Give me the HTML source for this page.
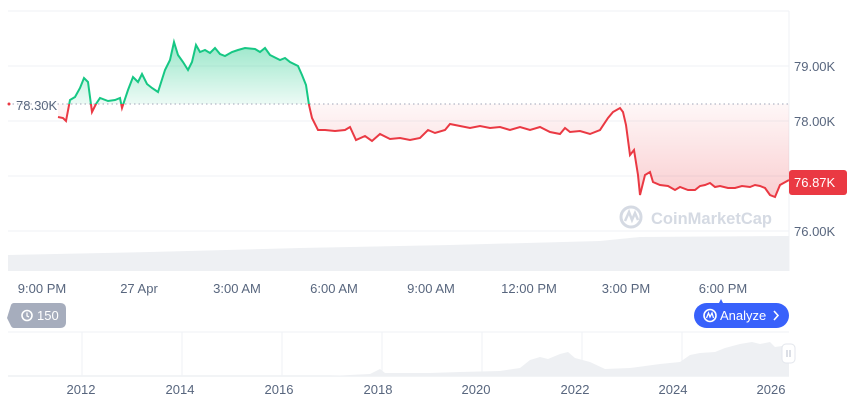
<!DOCTYPE html>
<html><head><meta charset="utf-8"><style>
html,body{margin:0;padding:0;background:#fff;width:860px;height:401px;overflow:hidden;font-family:"Liberation Sans",sans-serif;}
svg text{font-family:"Liberation Sans",sans-serif;}
</style></head><body>
<svg width="860" height="401" viewBox="0 0 860 401" xmlns="http://www.w3.org/2000/svg">
<defs>
<linearGradient id="gg" x1="0" y1="40" x2="0" y2="104" gradientUnits="userSpaceOnUse"><stop offset="0" stop-color="#16c784" stop-opacity="0.45"/><stop offset="1" stop-color="#16c784" stop-opacity="0.08"/></linearGradient>
<linearGradient id="rg" x1="0" y1="104" x2="0" y2="200" gradientUnits="userSpaceOnUse"><stop offset="0" stop-color="#ea3943" stop-opacity="0.04"/><stop offset="1" stop-color="#ea3943" stop-opacity="0.25"/></linearGradient>
<clipPath id="ct"><rect x="0" y="0" width="860" height="104"/></clipPath>
<clipPath id="cb"><rect x="0" y="104" width="860" height="200"/></clipPath>
<path id="ln" d="M58,117 L63,118 66,121 70,100 75,97 80,88 84,78 88,82 92,112 96,104 100,98 108,101 115,100 120,98 122,108 128,90 133,77 138,82 142,74 147,84 152,88 158,92 165,70 170,60 174,42 178,55 183,62 188,70 192,62 196,45 200,52 205,50 210,53 215,48 220,54 225,56 232,52 238,50 245,48 255,49 260,52 265,48 270,55 280,60 285,58 290,62 298,66 302,75 306,85 309,105 312,118 318,130 325,130 335,131 345,130 350,127 356,140 365,136 372,141 380,134 390,139 400,138 410,140 420,138 428,130 435,133 445,130 450,124 460,126 470,128 480,126 490,128 500,127 510,130 520,127 530,130 540,127 550,132 560,134 565,128 570,132 580,131 590,134 600,130 608,118 613,112 620,108 623,112 626,125 630,155 634,150 638,175 640,195 645,175 650,172 653,182 660,185 668,186 675,190 680,187 688,190 695,190 700,186 705,185 710,183 715,187 720,186 728,188 735,188 742,186 750,187 755,185 760,186 765,188 770,195 775,197 780,185 789,180"/>
</defs>
<g stroke="#eff2f5" stroke-width="1">
<line x1="8" y1="11" x2="789" y2="11"/>
<line x1="8" y1="66" x2="789" y2="66"/>
<line x1="8" y1="121" x2="789" y2="121"/>
<line x1="8" y1="176" x2="789" y2="176"/>
<line x1="8" y1="231" x2="789" y2="231"/>
<line x1="789" y1="11" x2="789" y2="271"/>
</g>
<path d="M8,255 L150,252 300,248 450,245 600,241 640,237 789,236 L789,271 L8,271 Z" fill="#eef0f3"/>
<g>
<circle cx="631" cy="217" r="10" fill="none" stroke="#d5dae3" stroke-width="3"/>
<path d="M625,221 L629,212 632,220 635,213 638,220" fill="none" stroke="#d5dae3" stroke-width="2.5"/>
<text x="651" y="224" font-size="17" font-weight="bold" fill="#d5dae3" textLength="121" lengthAdjust="spacingAndGlyphs">CoinMarketCap</text>
</g>
<path d="M58,117 L63,118 66,121 70,100 75,97 80,88 84,78 88,82 92,112 96,104 100,98 108,101 115,100 120,98 122,108 128,90 133,77 138,82 142,74 147,84 152,88 158,92 165,70 170,60 174,42 178,55 183,62 188,70 192,62 196,45 200,52 205,50 210,53 215,48 220,54 225,56 232,52 238,50 245,48 255,49 260,52 265,48 270,55 280,60 285,58 290,62 298,66 302,75 306,85 309,105 L309,104 L58,104 Z" fill="url(#gg)" clip-path="url(#ct)"/>
<path d="M306,104 L309,105 312,118 318,130 325,130 335,131 345,130 350,127 356,140 365,136 372,141 380,134 390,139 400,138 410,140 420,138 428,130 435,133 445,130 450,124 460,126 470,128 480,126 490,128 500,127 510,130 520,127 530,130 540,127 550,132 560,134 565,128 570,132 580,131 590,134 600,130 608,118 613,112 620,108 623,112 626,125 630,155 634,150 638,175 640,195 645,175 650,172 653,182 660,185 668,186 675,190 680,187 688,190 695,190 700,186 705,185 710,183 715,187 720,186 728,188 735,188 742,186 750,187 755,185 760,186 765,188 770,195 775,197 780,185 789,180 L789,104 Z" fill="url(#rg)"/>
<path d="M58,104 L58,117 63,118 66,121 70,104 Z M88,104 L92,112 96,104 Z M120,104 L122,108 124,104 Z" fill="url(#rg)"/>
<line x1="8" y1="104" x2="789" y2="104" stroke="#a0a6b8" stroke-width="1" stroke-dasharray="1.5,3"/>
<use href="#ln" fill="none" stroke="#16c784" stroke-width="2" clip-path="url(#ct)"/>
<use href="#ln" fill="none" stroke="#ea3943" stroke-width="2" clip-path="url(#cb)"/>
<circle cx="9" cy="104" r="1.5" fill="#ea3943"/>
<text x="16" y="110" font-size="13" fill="#58667e">78.30K</text>
<g font-size="13" fill="#58667e">
<text x="794" y="71">79.00K</text>
<text x="794" y="126">78.00K</text>
<text x="794" y="236">76.00K</text>
</g>
<rect x="789" y="170" width="58" height="25" rx="3" fill="#ea3943"/>
<text x="794" y="187" font-size="13" fill="#fff">76.87K</text>
<g font-size="13" fill="#58667e" text-anchor="middle">
<text x="42" y="293">9:00 PM</text>
<text x="139" y="293">27 Apr</text>
<text x="237" y="293">3:00 AM</text>
<text x="334" y="293">6:00 AM</text>
<text x="431" y="293">9:00 AM</text>
<text x="529" y="293">12:00 PM</text>
<text x="626" y="293">3:00 PM</text>
<text x="723" y="293">6:00 PM</text>
</g>
<path d="M14,303 L60,303 Q66,303 66,309 L66,322 Q66,328 60,328 L14,328 Q12,328 11,326 L7,318 L11,305 Q12,303 14,303 Z" fill="#a6adbd"/>
<circle cx="27" cy="315.5" r="5" fill="none" stroke="#fff" stroke-width="1.6"/>
<path d="M27,312.5 L27,316 29,317" fill="none" stroke="#fff" stroke-width="1.3"/>
<text x="37" y="320" font-size="13" fill="#fff">150</text>
<path d="M719,303 L721,299 L723,303 Z" fill="#3861fb"/>
<rect x="694" y="303" width="95" height="25" rx="12.5" fill="#3861fb"/>
<circle cx="710" cy="315.5" r="6" fill="none" stroke="#fff" stroke-width="1.6"/>
<path d="M706.5,318 L708.5,313 710,317 712,313 713.5,318" fill="none" stroke="#fff" stroke-width="1.3"/>
<text x="720" y="320" font-size="13" fill="#fff">Analyze</text>
<path d="M774,311 L778,315.5 774,320" fill="none" stroke="#fff" stroke-width="1.6"/>
<line x1="8" y1="332" x2="789" y2="332" stroke="#eff2f5"/>
<line x1="8" y1="376" x2="789" y2="376" stroke="#e6e9ee"/>
<g stroke="#eff2f5"><line x1="82" y1="332" x2="82" y2="376"/><line x1="182" y1="332" x2="182" y2="376"/><line x1="282" y1="332" x2="282" y2="376"/><line x1="382" y1="332" x2="382" y2="376"/><line x1="482" y1="332" x2="482" y2="376"/><line x1="582" y1="332" x2="582" y2="376"/><line x1="682" y1="332" x2="682" y2="376"/></g>
<path d="M330,376 L370,374 380,369 385,373 430,373 460,372 500,371 520,368 530,360 540,357 548,359 560,354 568,352 575,358 590,362 605,369 630,368 660,364 680,362 690,355 700,353 715,352 725,348 740,344 752,342 760,344 770,342 775,347 789,345 L789,376 Z" fill="#eef0f3"/>
<rect x="782" y="344" width="13" height="19" rx="4" fill="#fff" stroke="#e3e6ec"/>
<line x1="787" y1="350" x2="787" y2="357" stroke="#b8bfcc"/><line x1="790" y1="350" x2="790" y2="357" stroke="#b8bfcc"/>
<g font-size="13" fill="#58667e" text-anchor="middle">
<text x="81" y="394">2012</text><text x="180" y="394">2014</text><text x="279" y="394">2016</text><text x="378" y="394">2018</text><text x="476" y="394">2020</text><text x="575" y="394">2022</text><text x="673" y="394">2024</text><text x="771" y="394">2026</text>
</g>
</svg>
</body></html>
